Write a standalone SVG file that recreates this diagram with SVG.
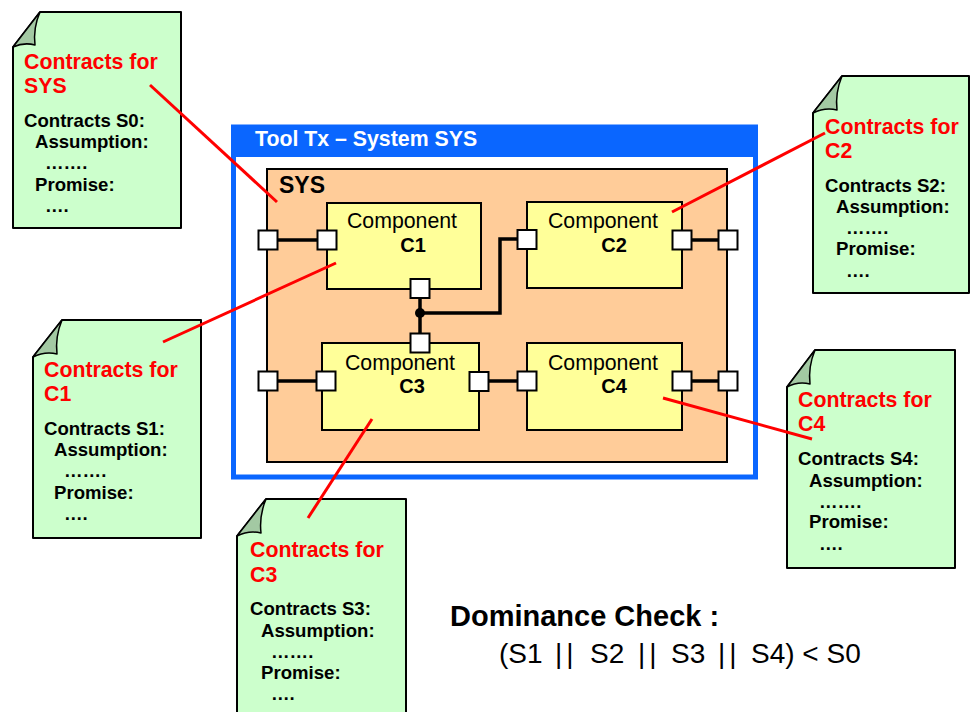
<svg xmlns="http://www.w3.org/2000/svg" width="972" height="712" viewBox="0 0 972 712">
  <style>
    text { font-family: "Liberation Sans", Arial, sans-serif; }
    .doc { fill: #ccffcc; stroke: #000; stroke-width: 2; stroke-linejoin: round; }
    .fold { fill: #a3c9a3; stroke: #000; stroke-width: 1.5; stroke-linejoin: round; }
    .dtitle { fill: #ff0000; font-weight: bold; font-size: 21.3px; }
    .dbody { fill: #000; font-weight: bold; font-size: 18.6px; }
    .comp { fill: #ffff99; stroke: #000; stroke-width: 2; }
    .cname { font-size: 21.3px; fill: #000; }
    .cid { font-size: 20px; font-weight: bold; fill: #000; }
    .port { fill: #fff; stroke: #000; stroke-width: 2; }
    .wire { fill: none; stroke: #000; stroke-width: 3.5; }
    .link { stroke: #ff0000; stroke-width: 3; fill: none; }
    .bars { letter-spacing: 4px; }
  </style>

  <!-- Tool frame -->
  <g id="tool">
    <rect x="233.5" y="127" width="522" height="350" fill="#fff" stroke="#0a66ff" stroke-width="5"/>
    <rect x="231" y="125" width="527" height="32" fill="#0a66ff"/>
    <text x="255" y="146" font-size="21.3" font-weight="bold" fill="#fff">Tool Tx – System SYS</text>
  </g>

  <!-- System block -->
  <g id="sys">
    <rect x="267" y="169" width="460" height="293" fill="#ffcc99" stroke="#000" stroke-width="2"/>
    <text x="279" y="193" font-size="23" font-weight="bold">SYS</text>
  </g>

  <!-- Wiring -->
  <g id="connectors">
    <line class="wire" x1="268" y1="240" x2="327" y2="240"/>
    <line class="wire" x1="682" y1="240" x2="728" y2="240"/>
    <line class="wire" x1="268" y1="381" x2="326" y2="381"/>
    <line class="wire" x1="479" y1="381" x2="527" y2="381"/>
    <line class="wire" x1="682" y1="381" x2="728" y2="381"/>
    <line class="wire" x1="420" y1="288" x2="420" y2="343"/>
    <polyline class="wire" points="420,313 500,313 500,239 527,239"/>
    <circle cx="420" cy="313" r="5" fill="#000"/>
  </g>

  <g id="c1">
    <rect class="comp" x="327" y="203" width="154" height="86"/>
    <text class="cname" x="402" y="228" text-anchor="middle">Component</text>
    <text class="cid" x="413" y="252" text-anchor="middle">C1</text>
  </g>
  <g id="c2">
    <rect class="comp" x="527" y="202" width="155" height="86"/>
    <text class="cname" x="603" y="228" text-anchor="middle">Component</text>
    <text class="cid" x="614" y="252" text-anchor="middle">C2</text>
  </g>
  <g id="c3">
    <rect class="comp" x="322" y="343" width="157" height="87"/>
    <text class="cname" x="400" y="370" text-anchor="middle">Component</text>
    <text class="cid" x="412" y="393" text-anchor="middle">C3</text>
  </g>
  <g id="c4">
    <rect class="comp" x="527" y="343" width="155" height="87"/>
    <text class="cname" x="603" y="370" text-anchor="middle">Component</text>
    <text class="cid" x="614" y="393" text-anchor="middle">C4</text>
  </g>

  <!-- Ports -->
  <g id="ports">
    <rect class="port" x="258.5" y="230.5" width="19" height="19"/>
    <rect class="port" x="317.5" y="230.5" width="19" height="19"/>
    <rect class="port" x="410.5" y="279" width="19" height="19"/>
    <rect class="port" x="517.5" y="230" width="19" height="19"/>
    <rect class="port" x="672.5" y="230.5" width="19" height="19"/>
    <rect class="port" x="718.5" y="230.5" width="19" height="19"/>
    <rect class="port" x="410.5" y="333.5" width="19" height="19"/>
    <rect class="port" x="258.5" y="371.5" width="19" height="19"/>
    <rect class="port" x="316.5" y="371.5" width="19" height="19"/>
    <rect class="port" x="469.5" y="372" width="19" height="19"/>
    <rect class="port" x="517.5" y="371.5" width="19" height="19"/>
    <rect class="port" x="672.5" y="371.5" width="19" height="19"/>
    <rect class="port" x="718.5" y="371.5" width="19" height="19"/>
  </g>

  <!-- Contract documents -->
  <g id="doc-sys">
    <path class="doc" d="M40,12 L181,12 L181,228 L13,228 L13,47 Z"/>
    <path class="fold" d="M13,47 L40,12 Q33,28 35,45 Q24,42 13,47 Z"/>
    <text class="dtitle" x="24" y="69">Contracts for</text>
    <text class="dtitle" x="24" y="93">SYS</text>
    <text class="dbody" x="24" y="127">Contracts S0:</text>
    <text class="dbody" x="35" y="148">Assumption:</text>
    <text class="dbody" x="45" y="169">…….</text>
    <text class="dbody" x="35" y="191">Promise:</text>
    <text class="dbody" x="45" y="212">….</text>
  </g>
  <g id="doc-c1">
    <path class="doc" d="M62,320 L201,320 L201,538 L33,538 L33,357 Z"/>
    <path class="fold" d="M33,357 L62,320 Q55,337 57,354 Q45,351 33,357 Z"/>
    <text class="dtitle" x="44" y="377">Contracts for</text>
    <text class="dtitle" x="44" y="401">C1</text>
    <text class="dbody" x="44" y="435">Contracts S1:</text>
    <text class="dbody" x="54" y="456">Assumption:</text>
    <text class="dbody" x="64" y="477">…….</text>
    <text class="dbody" x="54" y="499">Promise:</text>
    <text class="dbody" x="64" y="520">….</text>
  </g>
  <g id="doc-c2">
    <path class="doc" d="M842,76 L969,76 L969,293 L813,293 L813,113 Z"/>
    <path class="fold" d="M813,113 L842,76 Q835,93 837,110 Q825,107 813,113 Z"/>
    <text class="dtitle" x="825" y="134">Contracts for</text>
    <text class="dtitle" x="825" y="158">C2</text>
    <text class="dbody" x="825" y="192">Contracts S2:</text>
    <text class="dbody" x="836" y="213">Assumption:</text>
    <text class="dbody" x="846" y="234">…….</text>
    <text class="dbody" x="836" y="255">Promise:</text>
    <text class="dbody" x="846" y="277">….</text>
  </g>
  <g id="doc-c3">
    <path class="doc" d="M266,499 L406,499 L406,722 L237,722 L237,536 Z"/>
    <path class="fold" d="M237,536 L266,499 Q259,516 261,533 Q249,530 237,536 Z"/>
    <text class="dtitle" x="250" y="557">Contracts for</text>
    <text class="dtitle" x="250" y="582">C3</text>
    <text class="dbody" x="250" y="615">Contracts S3:</text>
    <text class="dbody" x="261" y="637">Assumption:</text>
    <text class="dbody" x="271" y="658">…….</text>
    <text class="dbody" x="261" y="679">Promise:</text>
    <text class="dbody" x="271" y="700">….</text>
  </g>
  <g id="doc-c4">
    <path class="doc" d="M815,350 L955,350 L955,568 L787,568 L787,387 Z"/>
    <path class="fold" d="M787,387 L815,350 Q808,367 810,384 Q798,381 787,387 Z"/>
    <text class="dtitle" x="798" y="407">Contracts for</text>
    <text class="dtitle" x="798" y="431">C4</text>
    <text class="dbody" x="798" y="465">Contracts S4:</text>
    <text class="dbody" x="809" y="487">Assumption:</text>
    <text class="dbody" x="819" y="508">…….</text>
    <text class="dbody" x="809" y="528">Promise:</text>
    <text class="dbody" x="819" y="550">….</text>
  </g>

  <!-- Contract attachment lines -->
  <g id="links">
    <line class="link" x1="150" y1="85" x2="277" y2="202"/>
    <line class="link" x1="163" y1="342" x2="336" y2="263"/>
    <line class="link" x1="672" y1="212" x2="825" y2="133"/>
    <line class="link" x1="372" y1="419" x2="308" y2="518"/>
    <line class="link" x1="663" y1="398" x2="812" y2="439"/>
  </g>

  <!-- Composition check -->
  <g id="dominance">
    <text x="450" y="626" font-size="29" font-weight="bold">Dominance Check :</text>
    <text y="663" font-size="28"><tspan x="499">(S1</tspan><tspan class="bars" x="555">||</tspan><tspan x="590">S2</tspan><tspan class="bars" x="638">||</tspan><tspan x="671">S3</tspan><tspan class="bars" x="718">||</tspan><tspan x="751">S4) &lt; S0</tspan></text>
  </g>
</svg>
